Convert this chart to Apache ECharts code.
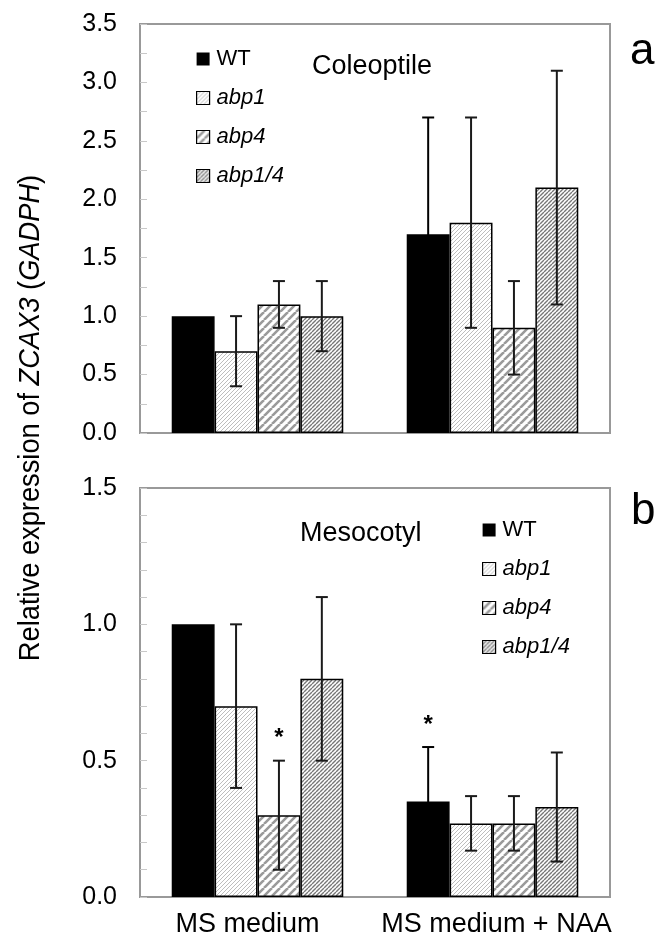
<!DOCTYPE html>
<html>
<head>
<meta charset="utf-8">
<script src="https://cdn.jsdelivr.net/npm/echarts@6/dist/echarts.min.js"></script>
<style>
html,body{margin:0;padding:0;background:#fff;}
#c{width:655px;height:940px;}
</style>
</head>
<body>
<div id="c"></div>
<script>
// ---- data ----
const categories = ['MS medium', 'MS medium + NAA'];
const seriesNames = ['WT', 'abp1', 'abp4', 'abp1/4'];

// Panel a: Coleoptile
const coleWT = [1.0, 1.7];
const coleWTErr = [0, 1.0];
const coleAbp1 = [0.7, 1.8];
const coleAbp1Err = [0.3, 0.9];
const coleAbp4 = [1.1, 0.9];
const coleAbp4Err = [0.2, 0.4];
const coleAbp14 = [1.0, 2.1];
const coleAbp14Err = [0.3, 1.0];

// Panel b: Mesocotyl
const mesoWT = [1.0, 0.35];
const mesoWTErr = [0, 0.2];
const mesoAbp1 = [0.7, 0.27];
const mesoAbp1Err = [0.3, 0.1];
const mesoAbp4 = [0.3, 0.27];
const mesoAbp4Err = [0.2, 0.1];
const mesoAbp14 = [0.8, 0.33];
const mesoAbp14Err = [0.3, 0.2];
// significance markers (1 = asterisk)
const mesoWTSig = [0, 1];
const mesoAbp1Sig = [0, 0];
const mesoAbp4Sig = [1, 0];
const mesoAbp14Sig = [0, 0];

const yTicksTop = ['0.0','0.5','1.0','1.5','2.0','2.5','3.0','3.5'];
const yTicksBottom = ['0.0','0.5','1.0','1.5'];

// ---- styles ----
const FONT = '"Liberation Sans", Arial, Helvetica, sans-serif';
function hatch(size, lw, color) {
  const c = document.createElement('canvas');
  c.width = size; c.height = size;
  const g = c.getContext('2d');
  g.fillStyle = '#fff'; g.fillRect(0, 0, size, size);
  g.strokeStyle = color; g.lineWidth = lw; g.beginPath();
  for (let k = -1; k <= 1; k++) { g.moveTo(k * size, size); g.lineTo(k * size + size, 0); }
  g.stroke();
  return { image: c, repeat: 'repeat' };
}
const fills = ['#000', hatch(4, 1, '#bdbdbd'), hatch(8, 2.6, '#9a9a9a'), hatch(4, 1.4, '#777')];
const CAT_GAP = 0.27;

const coleVals = [coleWT, coleAbp1, coleAbp4, coleAbp14];
const coleErrs = [coleWTErr, coleAbp1Err, coleAbp4Err, coleAbp14Err];
const mesoVals = [mesoWT, mesoAbp1, mesoAbp4, mesoAbp14];
const mesoErrs = [mesoWTErr, mesoAbp1Err, mesoAbp4Err, mesoAbp14Err];
const mesoSigs = [mesoWTSig, mesoAbp1Sig, mesoAbp4Sig, mesoAbp14Sig];

function barSeries(vals, gi) {
  return vals.map((v, i) => ({
    type: 'bar', name: seriesNames[i], xAxisIndex: gi, yAxisIndex: gi,
    data: v, barGap: 0, barCategoryGap: (CAT_GAP * 100) + '%',
    itemStyle: { color: fills[i], borderColor: '#000', borderWidth: 1.5 },
    emphasis: { disabled: true }, z: 2
  }));
}
function errData(vals, errs, sigs) {
  const out = [];
  vals.forEach((v, s) => v.forEach((val, c) => {
    out.push([c, s, val, errs[s][c], sigs ? sigs[s][c] : 0]);
  }));
  return out;
}
function renderErr(params, api) {
  const cat = api.value(0), s = api.value(1), v = api.value(2), e = api.value(3), sig = api.value(4);
  const band = api.size([1, 0])[0];
  const bw = band * (1 - CAT_GAP) / 4;
  const x = api.coord([cat, v])[0] + (s - 1.5) * bw;
  const yT = api.coord([cat, v + e])[1];
  const yB = api.coord([cat, v - e])[1];
  const st = { stroke: s === 0 ? '#000' : '#1a1a1a', lineWidth: 2 };
  const ch = [];
  const cap = 6;
  if (e > 0) {
    ch.push({ type: 'line', shape: { x1: x, y1: yT, x2: x, y2: yB }, style: st });
    ch.push({ type: 'line', shape: { x1: x - cap, y1: yT, x2: x + cap, y2: yT }, style: st });
    ch.push({ type: 'line', shape: { x1: x - cap, y1: yB, x2: x + cap, y2: yB }, style: st });
  }
  if (sig) {
    ch.push({ type: 'text', style: { text: '*', x: x, y: yT - 22, fill: '#000',
      font: 'bold 24px ' + FONT, align: 'center', verticalAlign: 'middle' } });
  }
  return { type: 'group', children: ch };
}

function yAxis(gi, max, minorSplit) {
  return {
    type: 'value', gridIndex: gi, min: 0, max: max, interval: 0.5,
    axisLine: { show: true, lineStyle: { color: '#999', width: 2 } },
    axisTick: { show: true, inside: true, length: 7, lineStyle: { color: '#c8c8c8', width: 1 } },
    minorTick: { show: true, splitNumber: minorSplit, length: 7, lineStyle: { color: '#c8c8c8', width: 1 } },
    splitLine: { show: false },
    axisLabel: { margin: 23, fontSize: 25, color: '#000', fontFamily: FONT,
      formatter: v => (gi === 0 ? yTicksTop : yTicksBottom)[Math.round(v / 0.5)] }
  };
}

function legendData() {
  return seriesNames.map((n, i) => ({
    name: n,
    itemStyle: { borderColor: '#000', borderWidth: i === 0 ? 0 : 1.2 },
    textStyle: { fontStyle: i === 0 ? 'normal' : 'italic' }
  }));
}
function legend(left, top) {
  return {
    orient: 'vertical', left: left, top: top, padding: 0, itemGap: 17,
    itemWidth: 13, itemHeight: 13, icon: 'rect', selectedMode: false,
    textStyle: { fontSize: 22, lineHeight: 22, color: '#000', fontFamily: FONT, padding: [0, 0, 0, 2] },
    data: legendData()
  };
}

const chart = echarts.init(document.getElementById('c'), null, { renderer: 'canvas' });
chart.setOption({
  animation: false,
  backgroundColor: '#fff',
  grid: [
    { left: 140, top: 24, width: 470, height: 409, show: true, borderColor: '#999', borderWidth: 2, backgroundColor: 'transparent' },
    { left: 140, top: 488, width: 470, height: 409, show: true, borderColor: '#999', borderWidth: 2, backgroundColor: 'transparent' }
  ],
  xAxis: [
    { type: 'category', gridIndex: 0, data: categories,
      axisLine: { lineStyle: { color: '#999', width: 2 } }, axisTick: { show: false }, axisLabel: { show: false } },
    { type: 'category', gridIndex: 1, data: categories,
      axisLine: { lineStyle: { color: '#999', width: 2 } }, axisTick: { show: false },
      axisLabel: { interval: 0, hideOverlap: false, margin: 14, fontSize: 27, color: '#000', fontFamily: FONT,
        formatter: (v, i) => i === 0 ? '{l|' + v + '}' : '{r|' + v + '}',
        rich: { l: { fontSize: 27, fontFamily: FONT, color: '#000', padding: [0, 20, 0, 0] },
                r: { fontSize: 27, fontFamily: FONT, color: '#000', padding: [0, 0, 0, 8] } } } }
  ],
  yAxis: [yAxis(0, 3.5, 2), yAxis(1, 1.5, 5)],
  legend: [legend(196, 48), legend(482, 519)],
  series: [
    ...barSeries(coleVals, 0),
    ...barSeries(mesoVals, 1),
    { type: 'custom', xAxisIndex: 0, yAxisIndex: 0, renderItem: renderErr, z: 5,
      encode: { x: 0, y: 2 }, data: errData(coleVals, coleErrs, null), silent: true },
    { type: 'custom', xAxisIndex: 1, yAxisIndex: 1, renderItem: renderErr, z: 5,
      encode: { x: 0, y: 2 }, data: errData(mesoVals, mesoErrs, mesoSigs), silent: true }
  ],
  graphic: [
    { type: 'text', x: 31, y: 418, rotation: Math.PI / 2, scaleX: 0.94,
      style: { text: 'Relative expression of {i|ZCAX3} ({i|GADPH})', fill: '#000',
        font: '29px ' + FONT, align: 'center', verticalAlign: 'middle',
        rich: { i: { fontStyle: 'italic', fontSize: 29, fontFamily: FONT, fill: '#000' } } } },
    { type: 'text', x: 312, y: 67, style: { text: 'Coleoptile', fill: '#000', font: '27px ' + FONT, align: 'left', verticalAlign: 'middle' } },
    { type: 'text', x: 300, y: 534, style: { text: 'Mesocotyl', fill: '#000', font: '27px ' + FONT, align: 'left', verticalAlign: 'middle' } },
    { type: 'text', x: 630, y: 52, style: { text: 'a', fill: '#000', font: '44px ' + FONT, align: 'left', verticalAlign: 'middle' } },
    { type: 'text', x: 631, y: 512, style: { text: 'b', fill: '#000', font: '44px ' + FONT, align: 'left', verticalAlign: 'middle' } }
  ]
});
</script>
</body>
</html>
